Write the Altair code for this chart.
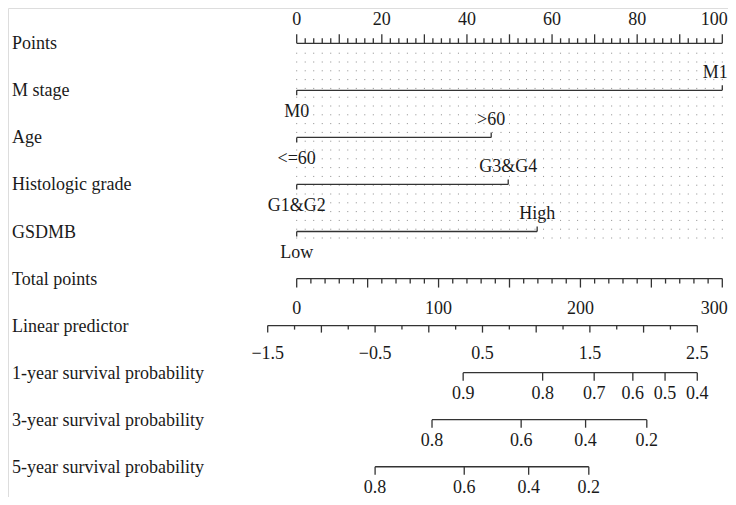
import altair as alt
import pandas as pd

# ---------------- data ----------------
row_names = ["Points", "M stage", "Age", "Histologic grade", "GSDMB",
             "Total points", "Linear predictor",
             "1-year survival probability", "3-year survival probability",
             "5-year survival probability"]

points_ticks = list(range(0, 101, 2))
points_major = list(range(0, 101, 10))
points_labels = [0, 20, 40, 60, 80, 100]

mstage_levels = ["M0", "M1"]
mstage_points = [0, 100]
age_levels = ["<=60", ">60"]
age_points = [0, 45.7]
grade_levels = ["G1&G2", "G3&G4"]
grade_points = [0, 49.7]
gsdmb_levels = ["Low", "High"]
gsdmb_points = [0, 56.5]

total_ticks = list(range(0, 301, 10))
total_major = list(range(0, 301, 50))
total_labels = [0, 100, 200, 300]

lp_ticks = [-1.5, -1.25, -1.0, -0.75, -0.5, -0.25, 0.0, 0.25, 0.5, 0.75,
            1.0, 1.25, 1.5, 1.75, 2.0, 2.25, 2.5]
lp_major = [-1.5, -1.0, -0.5, 0.0, 0.5, 1.0, 1.5, 2.0, 2.5]
lp_labels = [-1.5, -0.5, 0.5, 1.5, 2.5]

surv1_labels = ["0.9", "0.8", "0.7", "0.6", "0.5", "0.4"]
surv1_lp = [0.32, 1.06, 1.54, 1.90, 2.20, 2.50]
surv3_labels = ["0.8", "0.6", "0.4", "0.2"]
surv3_lp = [0.03, 0.86, 1.46, 2.03]
surv5_labels = ["0.8", "0.6", "0.4", "0.2"]
surv5_lp = [-0.50, 0.33, 0.93, 1.49]

LP_AT_TP0 = -1.23
LP_AT_TP300 = 2.733


def tp_to_pts(tp):
    return tp / 3.0


def lp_to_pts(lp):
    return (lp - LP_AT_TP0) / (LP_AT_TP300 - LP_AT_TP0) * 100.0


def fmt(v):
    s = f"{v:g}"
    return s.replace("-", "\u2212")


# ---------------- build tables ----------------
lines, ticks, texts = [], [], []


def edge(pos, x):
    # labels sitting at the right end of the scales are kept inside the page
    return pos + "_edge" if x >= 99.9 else pos


# Points scale (row 0)
lines.append(dict(x=0, x2=100, r=0))
for t in points_ticks:
    ticks.append(dict(x=t, r=0, kind="up9" if t in points_major else "up5"))
for t in points_labels:
    texts.append(dict(x=t, r=0, label=str(t), pos=edge("pts", t)))

# categorical rows
cats = [(mstage_levels, mstage_points), (age_levels, age_points),
        (grade_levels, grade_points), (gsdmb_levels, gsdmb_points)]
for i, (levels, pts) in enumerate(cats, start=1):
    lines.append(dict(x=min(pts), x2=max(pts), r=i))
    for j, (lab, p) in enumerate(zip(levels, pts)):
        side = "below" if j % 2 == 0 else "above"
        ticks.append(dict(x=p, r=i, kind="down5" if side == "below" else "up5"))
        texts.append(dict(x=p, r=i, label=lab, pos=edge(side, p)))

# Total points (row 5)
lines.append(dict(x=tp_to_pts(0), x2=tp_to_pts(300), r=5))
for t in total_ticks:
    ticks.append(dict(x=tp_to_pts(t), r=5, kind="down9" if t in total_major else "down5"))
for t in total_labels:
    texts.append(dict(x=tp_to_pts(t), r=5, label=str(t), pos=edge("tp", tp_to_pts(t))))

# Linear predictor (row 6)
lines.append(dict(x=lp_to_pts(lp_ticks[0]), x2=lp_to_pts(lp_ticks[-1]), r=6))
for t in lp_ticks:
    ticks.append(dict(x=lp_to_pts(t), r=6, kind="down7" if t in lp_major else "down4"))
for t in lp_labels:
    texts.append(dict(x=lp_to_pts(t), r=6, label=fmt(t), pos="lp"))

# survival rows
for i, (labs, lps) in enumerate([(surv1_labels, surv1_lp), (surv3_labels, surv3_lp),
                                 (surv5_labels, surv5_lp)], start=7):
    lines.append(dict(x=lp_to_pts(min(lps)), x2=lp_to_pts(max(lps)), r=i))
    for lab, lp in zip(labs, lps):
        ticks.append(dict(x=lp_to_pts(lp), r=i, kind="down8"))
        texts.append(dict(x=lp_to_pts(lp), r=i, label=lab, pos="surv"))

lines_df = pd.DataFrame(lines)
ticks_df = pd.DataFrame(ticks)
texts_df = pd.DataFrame(texts)
rows_df = pd.DataFrame({"name": row_names, "r": list(range(len(row_names)))})
grid_df = pd.DataFrame({"x": points_ticks, "r": 0.2, "r2": 4.15})

# ---------------- scales & style ----------------
W, H = 720, 489
PX_PER_PT = 4.256
X0 = 288.7  # pixel of Points = 0 inside the view
xs = alt.Scale(domain=[-X0 / PX_PER_PT, (W - X0) / PX_PER_PT], nice=False, zero=False)
ys = alt.Scale(domain=[-0.7503, 9.6429], nice=False, zero=False, reverse=True)
X = lambda f="x": alt.X(f"{f}:Q", scale=xs, axis=None)
Y = lambda f="r": alt.Y(f"{f}:Q", scale=ys, axis=None)

FONT = "Liberation Serif"
FS = 18
LINE = "#333333"
TXT = "#1a1a1a"

layers = []

# dotted vertical guide lines
layers.append(
    alt.Chart(grid_df).mark_rule(color="#8a8a8a", strokeWidth=1, strokeDash=[1, 7.8])
    .encode(x=X(), y=Y(), y2="r2:Q")
)

# horizontal scale lines
layers.append(
    alt.Chart(lines_df).mark_rule(color=LINE, strokeWidth=1.3)
    .encode(x=X(), x2="x2:Q", y=Y())
)

# ticks
tick_kinds = {"up9": (9, -1), "up5": (5, -1), "down5": (5, 1), "down9": (9, 1),
              "down7": (7, 1), "down4": (4, 1), "down8": (8, 1)}
for kind, (size, direction) in tick_kinds.items():
    sub = ticks_df[ticks_df["kind"] == kind]
    if len(sub) == 0:
        continue
    layers.append(
        alt.Chart(sub).mark_tick(orient="vertical", size=size, thickness=1.3,
                                 color=LINE, opacity=1,
                                 yOffset=direction * size / 2)
        .encode(x=X(), y=Y())
    )

# tick labels
text_dy = {"pts": -18.3, "above": -12.5, "below": 26.5, "tp": 35, "lp": 33.5, "surv": 26}
for pos, dy in text_dy.items():
    sub = texts_df[texts_df["pos"] == pos]
    if len(sub):
        layers.append(
            alt.Chart(sub).mark_text(font=FONT, fontSize=FS, color=TXT, align="center",
                                     baseline="alphabetic", dy=dy)
            .encode(x=X(), y=Y(), text="label:N")
        )
    sub = texts_df[texts_df["pos"] == pos + "_edge"]
    if len(sub):
        layers.append(
            alt.Chart(sub).mark_text(font=FONT, fontSize=FS, color=TXT, align="right",
                                     baseline="alphabetic", dy=dy, dx=5.5)
            .encode(x=X(), y=Y(), text="label:N")
        )

# row titles
layers.append(
    alt.Chart(rows_df).mark_text(font=FONT, fontSize=FS, color=TXT, align="left",
                                 baseline="alphabetic", dy=6)
    .encode(x=alt.value(4), y=Y(), text="name:N")
)

chart = (
    alt.layer(*layers)
    .properties(width=W, height=H, padding=0,
                autosize=alt.AutoSizeParams(type="none"))
    .configure_view(stroke=None)
    .configure(background="white")
)

chart.save("out.html", embed_options={"renderer": "svg", "actions": False})
